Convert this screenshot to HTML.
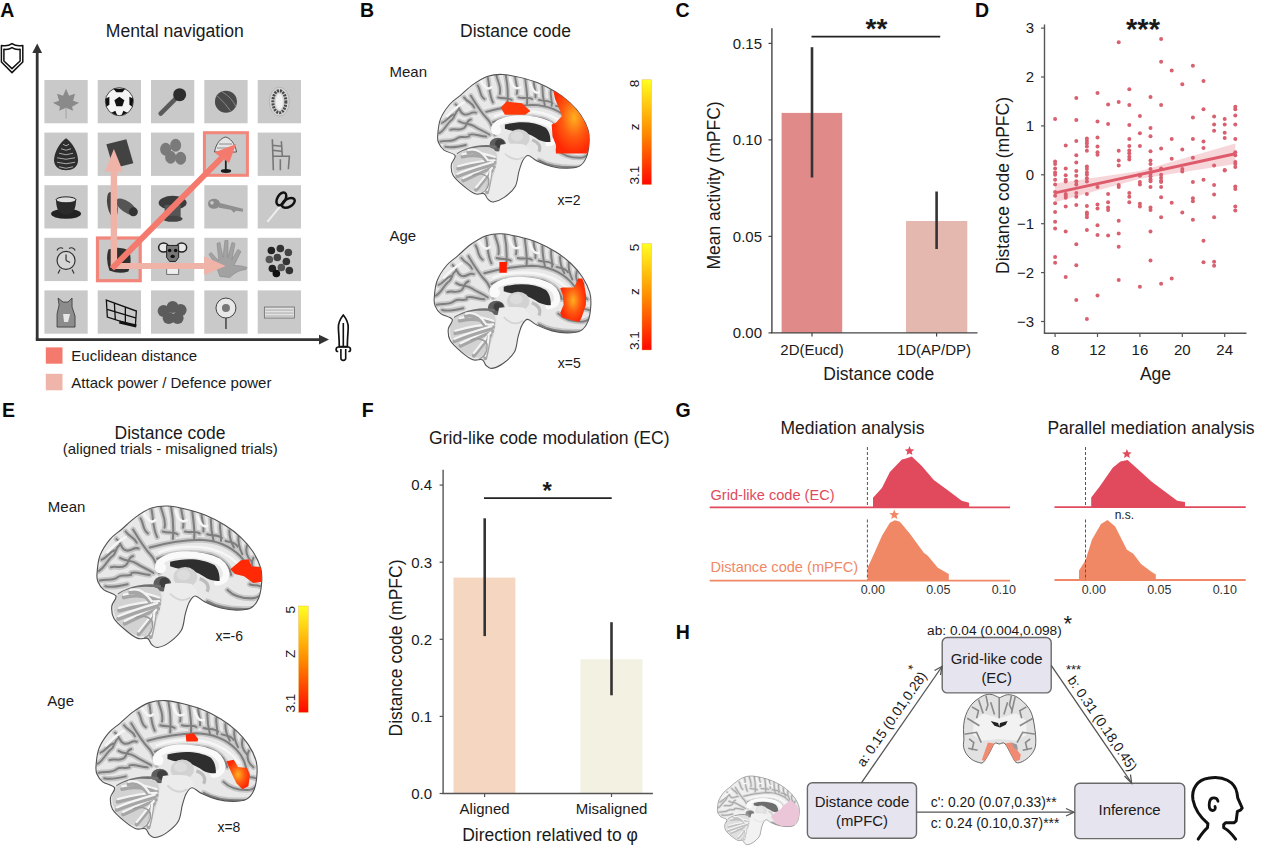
<!DOCTYPE html>
<html><head><meta charset="utf-8"><title>Figure</title>
<style>
html,body{margin:0;padding:0;background:#fff;width:1271px;height:852px;overflow:hidden;}
svg{display:block;font-family:"Liberation Sans",sans-serif;}
</style></head><body>
<svg width="1271" height="852" viewBox="0 0 1271 852">
<rect width="1271" height="852" fill="#fff"/>
<text x="0.2" y="17.2" font-size="19.5" text-anchor="start" fill="#0a0a0a" font-weight="bold" >A</text>
<text x="174.8" y="36.5" font-size="17.6" text-anchor="middle" fill="#1a1a1a" font-weight="normal" >Mental navigation</text>
<rect x="44.4" y="80.0" width="43.3" height="43.3" fill="#c9c9c9"/>
<rect x="97.7" y="80.0" width="43.3" height="43.3" fill="#c9c9c9"/>
<rect x="151.0" y="80.0" width="43.3" height="43.3" fill="#c9c9c9"/>
<rect x="204.3" y="80.0" width="43.3" height="43.3" fill="#c9c9c9"/>
<rect x="257.7" y="80.0" width="43.3" height="43.3" fill="#c9c9c9"/>
<rect x="44.4" y="132.6" width="43.3" height="43.3" fill="#c9c9c9"/>
<rect x="97.7" y="132.6" width="43.3" height="43.3" fill="#c9c9c9"/>
<rect x="151.0" y="132.6" width="43.3" height="43.3" fill="#c9c9c9"/>
<rect x="204.3" y="132.6" width="43.3" height="43.3" fill="#c9c9c9"/>
<rect x="257.7" y="132.6" width="43.3" height="43.3" fill="#c9c9c9"/>
<rect x="44.4" y="185.2" width="43.3" height="43.3" fill="#c9c9c9"/>
<rect x="97.7" y="185.2" width="43.3" height="43.3" fill="#c9c9c9"/>
<rect x="151.0" y="185.2" width="43.3" height="43.3" fill="#c9c9c9"/>
<rect x="204.3" y="185.2" width="43.3" height="43.3" fill="#c9c9c9"/>
<rect x="257.7" y="185.2" width="43.3" height="43.3" fill="#c9c9c9"/>
<rect x="44.4" y="237.8" width="43.3" height="43.3" fill="#c9c9c9"/>
<rect x="97.7" y="237.8" width="43.3" height="43.3" fill="#c9c9c9"/>
<rect x="151.0" y="237.8" width="43.3" height="43.3" fill="#c9c9c9"/>
<rect x="204.3" y="237.8" width="43.3" height="43.3" fill="#c9c9c9"/>
<rect x="257.7" y="237.8" width="43.3" height="43.3" fill="#c9c9c9"/>
<rect x="44.4" y="290.4" width="43.3" height="43.3" fill="#c9c9c9"/>
<rect x="97.7" y="290.4" width="43.3" height="43.3" fill="#c9c9c9"/>
<rect x="151.0" y="290.4" width="43.3" height="43.3" fill="#c9c9c9"/>
<rect x="204.3" y="290.4" width="43.3" height="43.3" fill="#c9c9c9"/>
<rect x="257.7" y="290.4" width="43.3" height="43.3" fill="#c9c9c9"/>
<path d="M66.05,88.65 L69.05,95.65 L75.05,93.65 L73.05,100.65 L79.05,102.65 L72.05,106.65 L73.05,110.65 L66.05,107.65 L59.05,110.65 L60.05,106.65 L53.05,102.65 L59.05,100.65 L57.05,93.65 L63.05,95.65 Z" fill="#8a8a8a"/>
<line x1="66.05" y1="107.65" x2="66.05" y2="118.65" stroke="#999" stroke-width="0.8"/>
<circle cx="119.35" cy="101.65" r="14" fill="#f4f4f4" stroke="#222" stroke-width="0.8"/>
<polygon points="119.35,96.65 124.35,100.15 122.35,106.15 116.35,106.15 114.35,100.15" fill="#111"/>
<path d="M113.35,88.65 L125.35,88.65 L122.35,92.15 L116.35,92.15 Z" fill="#111"/>
<path d="M105.35,98.65 L109.35,96.65 L109.35,104.65 L106.35,106.65 Z" fill="#111"/>
<path d="M133.35,98.65 L129.35,96.65 L129.35,104.65 L132.35,106.65 Z" fill="#111"/>
<path d="M111.35,112.65 L115.35,110.65 L117.35,115.65 Z" fill="#111"/>
<path d="M127.35,112.65 L123.35,110.65 L121.35,115.65 Z" fill="#111"/>
<line x1="160.65" y1="113.65" x2="176.65" y2="97.65" stroke="#5a5a5a" stroke-width="4.5" stroke-linecap="round"/>
<circle cx="179.65" cy="94.65" r="6.5" fill="#2e2e2e"/>
<circle cx="225.95000000000002" cy="101.65" r="11" fill="#4a4a4a"/>
<path d="M216.95000000000002,95.65 Q225.95000000000002,103.65 230.95000000000002,111.65 M221.95000000000002,91.65 Q231.95000000000002,97.65 235.95000000000002,106.65" stroke="#888" stroke-width="1" fill="none"/>
<ellipse cx="279.34999999999997" cy="101.65" rx="10" ry="14.5" fill="#d6d6d6" stroke="#b4b4b4" stroke-width="1"/>
<ellipse cx="279.34999999999997" cy="101.65" rx="6.5" ry="11" fill="none" stroke="#4a4a4a" stroke-width="3" stroke-dasharray="2,1"/>
<ellipse cx="279.34999999999997" cy="101.65" rx="3.5" ry="8" fill="#f0f0f0"/>
<path d="M66.05,138.25 C72.05,142.25 78.05,152.25 78.05,160.25 C78.05,167.25 72.05,170.25 66.05,170.25 C60.05,170.25 54.05,167.25 54.05,160.25 C54.05,152.25 60.05,142.25 66.05,138.25 Z" fill="#2e2e2e"/>
<path d="M63.05,144.25 Q66.05,147.25 69.05,144.25" stroke="#a8a8a8" stroke-width="1" fill="none"/>
<path d="M61.05,148.75 Q66.05,151.75 71.05,148.75" stroke="#a8a8a8" stroke-width="1" fill="none"/>
<path d="M59.05,153.25 Q66.05,156.25 73.05,153.25" stroke="#a8a8a8" stroke-width="1" fill="none"/>
<path d="M57.05,157.75 Q66.05,160.75 75.05,157.75" stroke="#a8a8a8" stroke-width="1" fill="none"/>
<path d="M57.05,162.25 Q66.05,165.25 75.05,162.25" stroke="#a8a8a8" stroke-width="1" fill="none"/>
<path d="M59.05,166.75 Q66.05,169.75 73.05,166.75" stroke="#a8a8a8" stroke-width="1" fill="none"/>
<polygon points="106.35,144.25 126.35,139.25 133.35,163.25 113.35,168.25" fill="#424242"/>
<ellipse cx="165.65" cy="149.25" rx="5.5" ry="6.5" fill="#7a7a7a"/>
<ellipse cx="175.65" cy="145.25" rx="5.5" ry="6.5" fill="#7a7a7a"/>
<ellipse cx="170.65" cy="157.25" rx="5.5" ry="6.5" fill="#7a7a7a"/>
<ellipse cx="180.65" cy="158.25" rx="5.5" ry="6.5" fill="#7a7a7a"/>
<path d="M214.5,152 C216,143 221,138 225.5,137 C230,138 235,143 236.5,152 Z" fill="#e4e4e4" stroke="#555" stroke-width="1"/>
<path d="M217,148 L234,148 M219,144 L232,144" stroke="#777" stroke-width="0.8"/>
<line x1="225.8" y1="152" x2="225.8" y2="170" stroke="#222" stroke-width="1.8"/>
<ellipse cx="226" cy="171" rx="5.2" ry="1.9" fill="#1a1a1a"/>
<path d="M272.34999999999997,139.25 L273.34999999999997,170.25 M281.34999999999997,141.25 L282.34999999999997,156.25 M272.34999999999997,145.25 L281.34999999999997,146.25 M272.34999999999997,150.25 L281.34999999999997,151.25 M273.34999999999997,156.25 L289.34999999999997,156.25 L288.34999999999997,169.25 M280.34999999999997,159.25 L280.34999999999997,170.25" stroke="#777" stroke-width="1.6" fill="none"/>
<ellipse cx="66.05" cy="213.85" rx="15" ry="5" fill="#222"/>
<path d="M56.05,199.85 Q56.05,214.85 66.05,214.85 Q76.05,214.85 76.05,199.85 Z" fill="#2a2a2a"/>
<ellipse cx="66.05" cy="199.85" rx="10" ry="3" fill="#ddd" stroke="#222" stroke-width="1"/>
<ellipse cx="112.35" cy="204.85" rx="5" ry="13" fill="#444" transform="rotate(-10 112.35 204.85)"/>
<ellipse cx="126.35" cy="206.85" rx="5.5" ry="12" fill="#555" transform="rotate(-55 126.35 206.85)"/>
<circle cx="133.35" cy="211.85" r="4.5" fill="#333"/>
<ellipse cx="172.65" cy="202.85" rx="14" ry="7" fill="#3c3c3c"/>
<rect x="164.65" y="204.85" width="16" height="14" fill="#555"/>
<ellipse cx="172.65" cy="218.85" rx="10" ry="3" fill="#444"/>
<ellipse cx="213.95000000000002" cy="203.85" rx="6" ry="5" fill="#8a8a8a"/>
<circle cx="211.95000000000002" cy="202.85" r="1.8" fill="#c9c9c9"/>
<path d="M218.95000000000002,202.85 L242.95000000000002,208.85 L242.95000000000002,211.85 L235.95000000000002,210.85 L233.95000000000002,212.85 L230.95000000000002,209.85 L218.95000000000002,207.85 Z" fill="#8f8f8f"/>
<path d="M267.34999999999997,221.85 L281.34999999999997,204.85" stroke="#eee" stroke-width="2"/>
<ellipse cx="281.34999999999997" cy="198.85" rx="4" ry="7" fill="none" stroke="#111" stroke-width="2.5" transform="rotate(30 281.34999999999997 198.85)"/>
<ellipse cx="288.34999999999997" cy="202.85" rx="4" ry="7" fill="none" stroke="#111" stroke-width="2.5" transform="rotate(60 288.34999999999997 202.85)"/>
<circle cx="66.05" cy="260.45" r="9" fill="#d6d6d6" stroke="#333" stroke-width="1.2"/>
<path d="M57.05,250.45 a4,4 0 0,1 6,-2 M69.05,248.45 a4,4 0 0,1 6,2 M66.05,260.45 L66.05,254.45 M66.05,260.45 L70.05,262.45 M60.05,269.45 L58.05,273.45 M72.05,269.45 L74.05,273.45" stroke="#333" stroke-width="1.2" fill="none"/>
<path d="M108.35,249.45 Q119.35,245.45 129.35,250.45 Q132.35,263.45 128.35,271.45 Q119.35,274.45 109.35,270.45 Q105.35,259.45 108.35,249.45 Z" fill="#303030"/>
<ellipse cx="163.65" cy="247.45" rx="5" ry="4.5" fill="#e8e8e8" stroke="#222" stroke-width="1.5"/>
<ellipse cx="181.65" cy="247.45" rx="5" ry="4.5" fill="#e8e8e8" stroke="#222" stroke-width="1.5"/>
<path d="M166.65,245.45 L178.65,245.45 L178.65,257.45 L175.65,261.45 L169.65,261.45 L166.65,257.45 Z" fill="#777" stroke="#222" stroke-width="1"/>
<circle cx="169.65" cy="250.45" r="1.8" fill="#111"/><circle cx="175.65" cy="250.45" r="1.8" fill="#111"/><ellipse cx="172.65" cy="256.45" rx="2.2" ry="1.6" fill="#111"/>
<path d="M166.65,263.45 L178.65,263.45 L178.65,274.45 L166.65,274.45 Z" fill="#eee" stroke="#555" stroke-width="0.8"/>
<path d="M219.95000000000002,276.45 C216.95000000000002,267.45 213.95000000000002,261.45 208.95000000000002,254.45 L210.95000000000002,252.45 C214.95000000000002,256.45 216.95000000000002,259.45 218.95000000000002,260.45 L216.95000000000002,243.45 L219.95000000000002,242.45 L222.95000000000002,257.45 L224.95000000000002,240.45 L227.95000000000002,240.45 L227.95000000000002,257.45 L231.95000000000002,242.45 L234.95000000000002,243.45 L231.95000000000002,259.45 L237.95000000000002,249.45 L240.95000000000002,251.45 L233.95000000000002,265.45 C239.95000000000002,265.45 243.95000000000002,266.45 246.95000000000002,267.45 L245.95000000000002,269.45 C237.95000000000002,270.45 233.95000000000002,273.45 229.95000000000002,277.45 Z" fill="#a2a2a2" stroke="#888" stroke-width="0.6"/>
<circle cx="271.34999999999997" cy="250.45" r="3.8" fill="#222"/>
<circle cx="280.34999999999997" cy="248.45" r="3.8" fill="#333"/>
<circle cx="288.34999999999997" cy="252.45" r="3.8" fill="#444"/>
<circle cx="269.34999999999997" cy="259.45" r="3.8" fill="#555"/>
<circle cx="277.34999999999997" cy="257.45" r="3.8" fill="#444"/>
<circle cx="286.34999999999997" cy="261.45" r="3.8" fill="#333"/>
<circle cx="272.34999999999997" cy="268.45" r="3.8" fill="#222"/>
<circle cx="281.34999999999997" cy="267.45" r="3.8" fill="#555"/>
<circle cx="289.34999999999997" cy="270.45" r="3.8" fill="#333"/>
<circle cx="276.34999999999997" cy="273.45" r="3.8" fill="#111"/>
<path d="M57.05,327.04999999999995 L57.05,314.04999999999995 L59.05,305.04999999999995 L58.05,298.04999999999995 L63.05,302.04999999999995 L68.05,302.04999999999995 L72.05,298.04999999999995 L72.05,307.04999999999995 L75.05,316.04999999999995 L75.05,327.04999999999995 Z" fill="#8c8c8c" stroke="#333" stroke-width="0.8"/>
<path d="M63.05,314.04999999999995 L70.05,314.04999999999995 L68.05,322.04999999999995 L64.05,322.04999999999995 Z" fill="#e6e6e6"/>
<path d="M106.35,300.04999999999995 L136.35,311.04999999999995 L135.35,326.04999999999995 L107.35,317.04999999999995 Z M114.35,303.04999999999995 L115.35,320.04999999999995 M125.35,307.04999999999995 L125.35,323.04999999999995 M106.35,309.04999999999995 L136.35,318.04999999999995" stroke="#111" stroke-width="1.3" fill="none"/>
<path d="M119.35,322.04999999999995 L136.35,326.04999999999995" stroke="#111" stroke-width="3"/>
<circle cx="163.65" cy="311.04999999999995" r="6" fill="#5c5c5c"/>
<circle cx="172.65" cy="307.04999999999995" r="6" fill="#5c5c5c"/>
<circle cx="180.65" cy="310.04999999999995" r="6" fill="#5c5c5c"/>
<circle cx="168.65" cy="318.04999999999995" r="6" fill="#5c5c5c"/>
<circle cx="177.65" cy="318.04999999999995" r="6" fill="#5c5c5c"/>
<line x1="225.95000000000002" y1="312.04999999999995" x2="225.95000000000002" y2="329.04999999999995" stroke="#444" stroke-width="1.5"/>
<circle cx="225.95000000000002" cy="308.04999999999995" r="10" fill="#e8e8e8" stroke="#444" stroke-width="1"/>
<circle cx="225.95000000000002" cy="308.04999999999995" r="4" fill="#777"/>
<rect x="264.34999999999997" y="307.04999999999995" width="30" height="11" fill="#e2e2e2" stroke="#666" stroke-width="0.8"/>
<line x1="265.34999999999997" y1="310.04999999999995" x2="293.34999999999997" y2="310.04999999999995" stroke="#888" stroke-width="0.6"/>
<line x1="265.34999999999997" y1="313.04999999999995" x2="293.34999999999997" y2="313.04999999999995" stroke="#888" stroke-width="0.6"/>
<line x1="265.34999999999997" y1="316.04999999999995" x2="293.34999999999997" y2="316.04999999999995" stroke="#888" stroke-width="0.6"/>
<rect x="204.4" y="132.7" width="43" height="42.6" fill="none" stroke="#f2867a" stroke-width="3"/>
<rect x="97.5" y="238" width="42.7" height="42.7" fill="none" stroke="#f2867a" stroke-width="3.2"/>
<line x1="113.9" y1="268" x2="113.9" y2="170" stroke="#f0b3a8" stroke-width="6.4"/>
<polygon points="104.9,171.5 123,171.5 113.9,149" fill="#f0b3a8"/>
<line x1="112" y1="266" x2="205" y2="266" stroke="#f0b3a8" stroke-width="5.8"/>
<polygon points="204.1,256.2 204.1,275 225.6,266" fill="#f0b3a8"/>
<line x1="112" y1="268.5" x2="222" y2="157.5" stroke="#f47a6e" stroke-width="6"/>
<polygon points="236.1,144 214.4,152.6 229.1,162.9" fill="#f47a6e"/>
<line x1="37.2" y1="52" x2="37.2" y2="339.6" stroke="#333" stroke-width="2.8"/>
<polygon points="32.3,53 42.1,53 37.2,43.5" fill="#333"/>
<line x1="35.8" y1="339.6" x2="320" y2="339.6" stroke="#333" stroke-width="2.8"/>
<polygon points="319,334.7 319,344.5 329,339.6" fill="#333"/>
<path d="M1.4,45.4 C5,46.2 9,45.8 12,43.6 C15,45.8 19,46.2 22.8,45.4 L22.8,62 L12,72.6 L1.4,62 Z" fill="none" stroke="#111" stroke-width="1.5" stroke-linejoin="round"/>
<path d="M3.9,49.3 C7,49.8 9.5,49.3 12,47.6 C14.5,49.3 17,49.8 20.1,49.3 L20.1,61 L12,68.6 L3.9,61 Z" fill="none" stroke="#111" stroke-width="1.5" stroke-linejoin="round"/>
<path d="M343.3,315 C340.5,318.5 338.2,323 338.4,328 C338.6,334 339.4,340 339.2,346.6 L347.4,346.6 C347.2,340 348,334 348.2,328 C348.4,323 346.1,318.5 343.3,315 Z" fill="none" stroke="#111" stroke-width="1.7" stroke-linejoin="round"/>
<line x1="343.3" y1="323" x2="343.3" y2="346.6" stroke="#111" stroke-width="1.6"/>
<path d="M337.5,351.5 C335.5,351 335.6,347 338.5,347 L348.1,347 C351,347 351.1,351 349.1,351.5" fill="none" stroke="#111" stroke-width="1.7" stroke-linecap="round"/>
<path d="M340.9,349 L340.9,358.3 C340.9,361 345.7,361 345.7,358.3 L345.7,349" fill="none" stroke="#111" stroke-width="1.6"/>
<rect x="45.8" y="347.4" width="16.7" height="16.3" fill="#f47a6e"/>
<rect x="45.8" y="373.8" width="16.7" height="16.5" fill="#f0b5aa"/>
<text x="71.3" y="361.2" font-size="15" text-anchor="start" fill="#1a1a1a" font-weight="normal" >Euclidean distance</text>
<text x="71.3" y="387.5" font-size="15" text-anchor="start" fill="#1a1a1a" font-weight="normal" >Attack power / Defence power</text>
<defs><clipPath id="bclip"><path d="M45.0,414.0 C46.8,390.8 49.3,348.3 61.0,318.0 C72.7,287.7 95.3,255.3 115.0,232.0 C134.7,208.7 155.8,197.7 179.0,178.0 C202.2,158.3 227.2,132.7 254.0,114.0 C280.8,95.3 311.3,75.8 340.0,66.0 C368.7,56.2 395.7,54.2 426.0,55.0 C456.3,55.8 488.2,63.0 522.0,71.0 C555.8,79.0 593.2,88.7 629.0,103.0 C664.8,117.3 704.8,137.3 737.0,157.0 C769.2,176.7 797.0,197.8 822.0,221.0 C847.0,244.2 869.2,269.2 887.0,296.0 C904.8,322.8 921.0,355.2 929.0,382.0 C937.0,408.8 936.7,430.2 935.0,457.0 C933.3,483.8 928.8,519.8 919.0,543.0 C909.2,566.2 895.7,585.3 876.0,596.0 C856.3,606.7 827.8,607.0 801.0,607.0 C774.2,607.0 743.7,603.2 715.0,596.0 C686.3,588.8 652.2,574.7 629.0,564.0 C605.8,553.3 590.2,532.0 576.0,532.0 C561.8,532.0 553.0,548.0 544.0,564.0 C535.0,580.0 529.2,603.0 522.0,628.0 C514.8,653.0 515.3,689.0 501.0,714.0 C486.7,739.0 457.5,762.8 436.0,778.0 C414.5,793.2 388.0,803.2 372.0,805.0 C356.0,806.8 349.0,797.0 340.0,789.0 C331.0,781.0 330.5,762.3 318.0,757.0 C305.5,751.7 284.7,764.2 265.0,757.0 C245.3,749.8 221.5,731.8 200.0,714.0 C178.5,696.2 148.5,671.3 136.0,650.0 C123.5,628.7 123.2,605.7 125.0,586.0 C126.8,566.3 154.2,546.3 147.0,532.0 C139.8,517.7 98.2,512.5 82.0,500.0 C65.8,487.5 56.2,471.3 50.0,457.0 C43.8,442.7 43.2,437.2 45.0,414.0 Z"/></clipPath>
<g id="brain">
<path d="M45.0,414.0 C46.8,390.8 49.3,348.3 61.0,318.0 C72.7,287.7 95.3,255.3 115.0,232.0 C134.7,208.7 155.8,197.7 179.0,178.0 C202.2,158.3 227.2,132.7 254.0,114.0 C280.8,95.3 311.3,75.8 340.0,66.0 C368.7,56.2 395.7,54.2 426.0,55.0 C456.3,55.8 488.2,63.0 522.0,71.0 C555.8,79.0 593.2,88.7 629.0,103.0 C664.8,117.3 704.8,137.3 737.0,157.0 C769.2,176.7 797.0,197.8 822.0,221.0 C847.0,244.2 869.2,269.2 887.0,296.0 C904.8,322.8 921.0,355.2 929.0,382.0 C937.0,408.8 936.7,430.2 935.0,457.0 C933.3,483.8 928.8,519.8 919.0,543.0 C909.2,566.2 895.7,585.3 876.0,596.0 C856.3,606.7 827.8,607.0 801.0,607.0 C774.2,607.0 743.7,603.2 715.0,596.0 C686.3,588.8 652.2,574.7 629.0,564.0 C605.8,553.3 590.2,532.0 576.0,532.0 C561.8,532.0 553.0,548.0 544.0,564.0 C535.0,580.0 529.2,603.0 522.0,628.0 C514.8,653.0 515.3,689.0 501.0,714.0 C486.7,739.0 457.5,762.8 436.0,778.0 C414.5,793.2 388.0,803.2 372.0,805.0 C356.0,806.8 349.0,797.0 340.0,789.0 C331.0,781.0 330.5,762.3 318.0,757.0 C305.5,751.7 284.7,764.2 265.0,757.0 C245.3,749.8 221.5,731.8 200.0,714.0 C178.5,696.2 148.5,671.3 136.0,650.0 C123.5,628.7 123.2,605.7 125.0,586.0 C126.8,566.3 154.2,546.3 147.0,532.0 C139.8,517.7 98.2,512.5 82.0,500.0 C65.8,487.5 56.2,471.3 50.0,457.0 C43.8,442.7 43.2,437.2 45.0,414.0 Z" fill="#e8e8e8"/>
<g clip-path="url(#bclip)">
<path d="M55,400 C90,380 100,340 130,320 C150,305 140,280 170,260" fill="none" stroke="#c6c6c6" stroke-width="30" stroke-linecap="round"/>
<path d="M70,340 C100,330 110,300 140,290" fill="none" stroke="#c6c6c6" stroke-width="30" stroke-linecap="round"/>
<path d="M60,450 C100,440 130,455 160,430 C180,415 200,430 230,420" fill="none" stroke="#c6c6c6" stroke-width="30" stroke-linecap="round"/>
<path d="M90,480 C130,490 170,480 210,470" fill="none" stroke="#c6c6c6" stroke-width="30" stroke-linecap="round"/>
<path d="M120,380 C150,370 170,390 200,370 C220,355 210,330 240,320" fill="none" stroke="#c6c6c6" stroke-width="30" stroke-linecap="round"/>
<path d="M150,230 C180,250 170,280 200,290 C230,300 240,270 270,280" fill="none" stroke="#c6c6c6" stroke-width="30" stroke-linecap="round"/>
<path d="M200,190 C220,220 250,220 260,250" fill="none" stroke="#c6c6c6" stroke-width="30" stroke-linecap="round"/>
<path d="M240,180 C270,230 300,280 340,320 C360,340 370,380 380,410" fill="none" stroke="#c6c6c6" stroke-width="30" stroke-linecap="round"/>
<path d="M170,330 C200,350 230,340 260,360 C290,380 320,390 350,410" fill="none" stroke="#c6c6c6" stroke-width="30" stroke-linecap="round"/>
<path d="M230,410 C260,400 290,420 330,420" fill="none" stroke="#c6c6c6" stroke-width="30" stroke-linecap="round"/>
<path d="M280,120 C300,150 290,180 320,200" fill="none" stroke="#c6c6c6" stroke-width="30" stroke-linecap="round"/>
<path d="M340,75 C350,120 345,170 370,220" fill="none" stroke="#c6c6c6" stroke-width="30" stroke-linecap="round"/>
<path d="M390,62 C400,100 420,130 410,170" fill="none" stroke="#c6c6c6" stroke-width="30" stroke-linecap="round"/>
<path d="M445,60 C455,110 460,170 455,230" fill="none" stroke="#c6c6c6" stroke-width="30" stroke-linecap="round"/>
<path d="M500,65 C500,100 520,130 510,170" fill="none" stroke="#c6c6c6" stroke-width="30" stroke-linecap="round"/>
<path d="M560,85 C565,130 575,180 570,230" fill="none" stroke="#c6c6c6" stroke-width="30" stroke-linecap="round"/>
<path d="M610,100 C610,130 625,150 620,190" fill="none" stroke="#c6c6c6" stroke-width="30" stroke-linecap="round"/>
<path d="M660,125 C660,165 665,200 675,240" fill="none" stroke="#c6c6c6" stroke-width="30" stroke-linecap="round"/>
<path d="M710,150 C705,180 720,210 715,240" fill="none" stroke="#c6c6c6" stroke-width="30" stroke-linecap="round"/>
<path d="M760,185 C760,220 770,250 785,275" fill="none" stroke="#c6c6c6" stroke-width="30" stroke-linecap="round"/>
<path d="M810,215 C805,250 815,280 830,310" fill="none" stroke="#c6c6c6" stroke-width="30" stroke-linecap="round"/>
<path d="M855,265 C845,300 860,330 880,350" fill="none" stroke="#c6c6c6" stroke-width="30" stroke-linecap="round"/>
<path d="M890,330 C875,360 885,400 915,420" fill="none" stroke="#c6c6c6" stroke-width="30" stroke-linecap="round"/>
<path d="M330,275 C420,250 500,237 600,234 C680,236 760,262 820,322 C860,362 870,400 880,445" fill="none" stroke="#c6c6c6" stroke-width="30" stroke-linecap="round"/>
<path d="M370,335 C450,300 570,295 660,315 C720,335 760,370 770,420" fill="none" stroke="#c6c6c6" stroke-width="30" stroke-linecap="round"/>
<path d="M400,190 C430,200 460,190 480,205" fill="none" stroke="#c6c6c6" stroke-width="30" stroke-linecap="round"/>
<path d="M520,190 C550,200 580,185 600,200" fill="none" stroke="#c6c6c6" stroke-width="30" stroke-linecap="round"/>
<path d="M640,205 C670,215 700,205 720,225" fill="none" stroke="#c6c6c6" stroke-width="30" stroke-linecap="round"/>
<path d="M740,240 C770,250 790,245 805,270" fill="none" stroke="#c6c6c6" stroke-width="30" stroke-linecap="round"/>
<path d="M870,470 C890,480 905,470 925,480" fill="none" stroke="#c6c6c6" stroke-width="30" stroke-linecap="round"/>
<path d="M750,500 C780,530 830,545 880,545 C900,545 920,535 930,525" fill="none" stroke="#c6c6c6" stroke-width="30" stroke-linecap="round"/>
<path d="M640,560 C700,595 780,605 880,600" fill="none" stroke="#c6c6c6" stroke-width="30" stroke-linecap="round"/>
<path d="M110,560 C150,540 200,530 260,540" fill="none" stroke="#c6c6c6" stroke-width="30" stroke-linecap="round"/>
<path d="M55,400 C90,380 100,340 130,320 C150,305 140,280 170,260" fill="none" stroke="#7e7e7e" stroke-width="11" stroke-linecap="round"/>
<path d="M70,340 C100,330 110,300 140,290" fill="none" stroke="#7e7e7e" stroke-width="11" stroke-linecap="round"/>
<path d="M60,450 C100,440 130,455 160,430 C180,415 200,430 230,420" fill="none" stroke="#7e7e7e" stroke-width="11" stroke-linecap="round"/>
<path d="M90,480 C130,490 170,480 210,470" fill="none" stroke="#7e7e7e" stroke-width="11" stroke-linecap="round"/>
<path d="M120,380 C150,370 170,390 200,370 C220,355 210,330 240,320" fill="none" stroke="#7e7e7e" stroke-width="11" stroke-linecap="round"/>
<path d="M150,230 C180,250 170,280 200,290 C230,300 240,270 270,280" fill="none" stroke="#7e7e7e" stroke-width="11" stroke-linecap="round"/>
<path d="M200,190 C220,220 250,220 260,250" fill="none" stroke="#7e7e7e" stroke-width="11" stroke-linecap="round"/>
<path d="M240,180 C270,230 300,280 340,320 C360,340 370,380 380,410" fill="none" stroke="#7e7e7e" stroke-width="11" stroke-linecap="round"/>
<path d="M170,330 C200,350 230,340 260,360 C290,380 320,390 350,410" fill="none" stroke="#7e7e7e" stroke-width="11" stroke-linecap="round"/>
<path d="M230,410 C260,400 290,420 330,420" fill="none" stroke="#7e7e7e" stroke-width="11" stroke-linecap="round"/>
<path d="M280,120 C300,150 290,180 320,200" fill="none" stroke="#7e7e7e" stroke-width="11" stroke-linecap="round"/>
<path d="M340,75 C350,120 345,170 370,220" fill="none" stroke="#7e7e7e" stroke-width="11" stroke-linecap="round"/>
<path d="M390,62 C400,100 420,130 410,170" fill="none" stroke="#7e7e7e" stroke-width="11" stroke-linecap="round"/>
<path d="M445,60 C455,110 460,170 455,230" fill="none" stroke="#7e7e7e" stroke-width="11" stroke-linecap="round"/>
<path d="M500,65 C500,100 520,130 510,170" fill="none" stroke="#7e7e7e" stroke-width="11" stroke-linecap="round"/>
<path d="M560,85 C565,130 575,180 570,230" fill="none" stroke="#7e7e7e" stroke-width="11" stroke-linecap="round"/>
<path d="M610,100 C610,130 625,150 620,190" fill="none" stroke="#7e7e7e" stroke-width="11" stroke-linecap="round"/>
<path d="M660,125 C660,165 665,200 675,240" fill="none" stroke="#7e7e7e" stroke-width="11" stroke-linecap="round"/>
<path d="M710,150 C705,180 720,210 715,240" fill="none" stroke="#7e7e7e" stroke-width="11" stroke-linecap="round"/>
<path d="M760,185 C760,220 770,250 785,275" fill="none" stroke="#7e7e7e" stroke-width="11" stroke-linecap="round"/>
<path d="M810,215 C805,250 815,280 830,310" fill="none" stroke="#7e7e7e" stroke-width="11" stroke-linecap="round"/>
<path d="M855,265 C845,300 860,330 880,350" fill="none" stroke="#7e7e7e" stroke-width="11" stroke-linecap="round"/>
<path d="M890,330 C875,360 885,400 915,420" fill="none" stroke="#7e7e7e" stroke-width="11" stroke-linecap="round"/>
<path d="M330,275 C420,250 500,237 600,234 C680,236 760,262 820,322 C860,362 870,400 880,445" fill="none" stroke="#7e7e7e" stroke-width="11" stroke-linecap="round"/>
<path d="M370,335 C450,300 570,295 660,315 C720,335 760,370 770,420" fill="none" stroke="#7e7e7e" stroke-width="11" stroke-linecap="round"/>
<path d="M400,190 C430,200 460,190 480,205" fill="none" stroke="#7e7e7e" stroke-width="11" stroke-linecap="round"/>
<path d="M520,190 C550,200 580,185 600,200" fill="none" stroke="#7e7e7e" stroke-width="11" stroke-linecap="round"/>
<path d="M640,205 C670,215 700,205 720,225" fill="none" stroke="#7e7e7e" stroke-width="11" stroke-linecap="round"/>
<path d="M740,240 C770,250 790,245 805,270" fill="none" stroke="#7e7e7e" stroke-width="11" stroke-linecap="round"/>
<path d="M870,470 C890,480 905,470 925,480" fill="none" stroke="#7e7e7e" stroke-width="11" stroke-linecap="round"/>
<path d="M750,500 C780,530 830,545 880,545 C900,545 920,535 930,525" fill="none" stroke="#7e7e7e" stroke-width="11" stroke-linecap="round"/>
<path d="M640,560 C700,595 780,605 880,600" fill="none" stroke="#7e7e7e" stroke-width="11" stroke-linecap="round"/>
<path d="M110,560 C150,540 200,530 260,540" fill="none" stroke="#7e7e7e" stroke-width="11" stroke-linecap="round"/>
<path d="M100,300 C130,270 160,240 200,220" fill="none" stroke="#f6f6f6" stroke-width="14" stroke-linecap="round"/>
<path d="M300,95 C320,130 340,150 360,130" fill="none" stroke="#f6f6f6" stroke-width="14" stroke-linecap="round"/>
<path d="M470,80 C480,120 500,150 530,130" fill="none" stroke="#f6f6f6" stroke-width="14" stroke-linecap="round"/>
<path d="M590,110 C600,150 620,170 640,160" fill="none" stroke="#f6f6f6" stroke-width="14" stroke-linecap="round"/>
<path d="M380,300 C450,270 570,262 660,282 C730,300 790,335 835,395" fill="none" stroke="#f6f6f6" stroke-width="14" stroke-linecap="round"/>
<path d="M377,366 C400,330 440,318 500,313 C580,308 660,325 704,350 C735,370 748,405 741,430 C735,450 720,458 694,460" fill="none" stroke="#fafafa" stroke-width="34" stroke-linecap="round"/>
<circle cx="388" cy="382" r="30" fill="#fafafa"/>
<ellipse cx="398" cy="468" rx="48" ry="40" fill="#5e5e5e"/>
<ellipse cx="410" cy="462" rx="28" ry="26" fill="#3e3e3e"/>
<path d="M160,525 C220,485 310,468 390,482" fill="none" stroke="#707070" stroke-width="14"/>
<path d="M440,350 C520,330 610,330 680,368 C702,390 708,420 708,452 C690,456 660,448 640,440 C610,420 585,405 555,398 C520,392 480,390 440,375 Z" fill="#2e2e2e"/>
<ellipse cx="522" cy="432" rx="64" ry="54" fill="#d2d2d2"/>
<ellipse cx="512" cy="420" rx="36" ry="28" fill="#dcdcdc"/>
<path d="M600,440 C640,455 655,480 640,510" fill="none" stroke="#bcbcbc" stroke-width="18"/>
<path d="M415,468 C470,460 530,462 555,468 C575,490 590,510 587,521 C570,560 550,585 534,607 C515,650 505,690 491,714 C470,750 440,790 416,800 L330,789 C350,730 370,670 384,628 C392,590 398,550 405,521 C408,500 410,480 415,468 Z" fill="#ececec"/>
<path d="M440,520 C480,560 520,560 550,540" fill="none" stroke="#d4d4d4" stroke-width="10"/>
<path d="M150,530 C210,485 300,475 370,490 C400,510 400,555 385,605 C370,660 345,715 305,745 C250,750 190,715 155,660 C130,620 128,570 150,530 Z" fill="#d2d2d2"/>
<path d="M380,540 C320,520 260,505 190,525" fill="none" stroke="#a6a6a6" stroke-width="22" stroke-linecap="round" transform="translate(0,14)"/>
<path d="M380,540 C320,520 260,505 190,525" fill="none" stroke="#f4f4f4" stroke-width="12" stroke-linecap="round"/>
<path d="M380,560 C310,560 240,575 165,595" fill="none" stroke="#a6a6a6" stroke-width="22" stroke-linecap="round" transform="translate(0,14)"/>
<path d="M380,560 C310,560 240,575 165,595" fill="none" stroke="#f4f4f4" stroke-width="12" stroke-linecap="round"/>
<path d="M375,585 C320,605 260,635 195,665" fill="none" stroke="#a6a6a6" stroke-width="22" stroke-linecap="round" transform="translate(0,14)"/>
<path d="M375,585 C320,605 260,635 195,665" fill="none" stroke="#f4f4f4" stroke-width="12" stroke-linecap="round"/>
<path d="M365,605 C330,645 300,685 270,720" fill="none" stroke="#a6a6a6" stroke-width="22" stroke-linecap="round" transform="translate(0,14)"/>
<path d="M365,605 C330,645 300,685 270,720" fill="none" stroke="#f4f4f4" stroke-width="12" stroke-linecap="round"/>
<path d="M355,615 C355,655 345,695 335,735" fill="none" stroke="#a6a6a6" stroke-width="22" stroke-linecap="round" transform="translate(0,14)"/>
<path d="M355,615 C355,655 345,695 335,735" fill="none" stroke="#f4f4f4" stroke-width="12" stroke-linecap="round"/>
<path d="M340,560 C300,500 260,490 225,500" fill="none" stroke="#a6a6a6" stroke-width="22" stroke-linecap="round" transform="translate(0,14)"/>
<path d="M340,560 C300,500 260,490 225,500" fill="none" stroke="#f4f4f4" stroke-width="12" stroke-linecap="round"/>
<path d="M370,570 C300,590 230,610 160,640" fill="none" stroke="#a6a6a6" stroke-width="22" stroke-linecap="round" transform="translate(0,14)"/>
<path d="M370,570 C300,590 230,610 160,640" fill="none" stroke="#f4f4f4" stroke-width="12" stroke-linecap="round"/>
<path d="M250,650 C280,630 330,640 345,670 C350,705 335,740 300,755" fill="none" stroke="#9a9a9a" stroke-width="8"/>
</g>
<path d="M45.0,414.0 C46.8,390.8 49.3,348.3 61.0,318.0 C72.7,287.7 95.3,255.3 115.0,232.0 C134.7,208.7 155.8,197.7 179.0,178.0 C202.2,158.3 227.2,132.7 254.0,114.0 C280.8,95.3 311.3,75.8 340.0,66.0 C368.7,56.2 395.7,54.2 426.0,55.0 C456.3,55.8 488.2,63.0 522.0,71.0 C555.8,79.0 593.2,88.7 629.0,103.0 C664.8,117.3 704.8,137.3 737.0,157.0 C769.2,176.7 797.0,197.8 822.0,221.0 C847.0,244.2 869.2,269.2 887.0,296.0 C904.8,322.8 921.0,355.2 929.0,382.0 C937.0,408.8 936.7,430.2 935.0,457.0 C933.3,483.8 928.8,519.8 919.0,543.0 C909.2,566.2 895.7,585.3 876.0,596.0 C856.3,606.7 827.8,607.0 801.0,607.0 C774.2,607.0 743.7,603.2 715.0,596.0 C686.3,588.8 652.2,574.7 629.0,564.0 C605.8,553.3 590.2,532.0 576.0,532.0 C561.8,532.0 553.0,548.0 544.0,564.0 C535.0,580.0 529.2,603.0 522.0,628.0 C514.8,653.0 515.3,689.0 501.0,714.0 C486.7,739.0 457.5,762.8 436.0,778.0 C414.5,793.2 388.0,803.2 372.0,805.0 C356.0,806.8 349.0,797.0 340.0,789.0 C331.0,781.0 330.5,762.3 318.0,757.0 C305.5,751.7 284.7,764.2 265.0,757.0 C245.3,749.8 221.5,731.8 200.0,714.0 C178.5,696.2 148.5,671.3 136.0,650.0 C123.5,628.7 123.2,605.7 125.0,586.0 C126.8,566.3 154.2,546.3 147.0,532.0 C139.8,517.7 98.2,512.5 82.0,500.0 C65.8,487.5 56.2,471.3 50.0,457.0 C43.8,442.7 43.2,437.2 45.0,414.0 Z" fill="none" stroke="#505050" stroke-width="6"/>
</g></defs>
<text x="360" y="17.2" font-size="19.5" text-anchor="start" fill="#0a0a0a" font-weight="bold" >B</text>
<text x="515.5" y="36.8" font-size="17.5" text-anchor="middle" fill="#1a1a1a" font-weight="normal" >Distance code</text>
<text x="389.5" y="77" font-size="15" text-anchor="start" fill="#1a1a1a" font-weight="normal" >Mean</text>
<text x="389.5" y="240.5" font-size="15" text-anchor="start" fill="#1a1a1a" font-weight="normal" >Age</text>
<radialGradient id="bg1"><stop offset="0" stop-color="#ffb020"/><stop offset="0.55" stop-color="#ff5a10"/><stop offset="1" stop-color="#ff2a05"/></radialGradient>
<g transform="translate(430.04,65.05) scale(0.17011,0.17007)"><use href="#brain"/><g clip-path="url(#bclip)"><polygon points="720.0,130.0 735.0,200.0 760.0,260.0 775.0,300.0 740.0,340.0 715.0,350.0 720.0,420.0 740.0,470.0 740.0,520.0 980.0,520.0 980.0,100.0" fill="url(#bg1)"/><polygon points="415.0,250.0 450.0,215.0 540.0,225.0 590.0,270.0 560.0,292.0 440.0,292.0" fill="#ff3a08"/></g></g>
<text x="557.5" y="205" font-size="14" text-anchor="start" fill="#1a1a1a" font-weight="normal" >x=2</text>
<g transform="translate(426.28,223.82) scale(0.17596,0.17960)"><use href="#brain"/><g clip-path="url(#bclip)"><polygon points="761.1,359.0 774.7,354.6 840.1,354.6 863.4,304.4 886.7,304.4 896.4,331.7 907.7,396.3 907.2,450.9 883.3,519.9 869.6,547.2 831.6,538.3 770.8,519.9 761.1,497.1 780.4,450.9 775.3,395.8" fill="url(#bg1)"/><polygon points="415.5,212.6 457.6,212.6 457.6,272.2 415.5,272.2" fill="#ff1a00"/></g></g>
<text x="557.8" y="367.6" font-size="14" text-anchor="start" fill="#1a1a1a" font-weight="normal" >x=5</text>
<linearGradient id="cb1" x1="0" y1="1" x2="0" y2="0"><stop offset="0" stop-color="#ff0800"/><stop offset="0.5" stop-color="#ff8c00"/><stop offset="1" stop-color="#ffff20"/></linearGradient>
<rect x="642" y="79.8" width="9.5" height="104.8" fill="url(#cb1)" stroke="#e0b040" stroke-width="0.4"/>
<text transform="translate(638.5,79.8) rotate(-90)" font-size="13.5" text-anchor="end" fill="#1a1a1a">8</text>
<text transform="translate(638.5,126.96) rotate(-90)" font-size="13.5" text-anchor="middle" fill="#1a1a1a">z</text>
<text transform="translate(638.5,184.6) rotate(-90)" font-size="13.5" text-anchor="start" fill="#1a1a1a">3.1</text>
<linearGradient id="cb2" x1="0" y1="1" x2="0" y2="0"><stop offset="0" stop-color="#ff0800"/><stop offset="0.5" stop-color="#ff8c00"/><stop offset="1" stop-color="#ffff20"/></linearGradient>
<rect x="642" y="243.7" width="9.5" height="106.3" fill="url(#cb2)" stroke="#e0b040" stroke-width="0.4"/>
<text transform="translate(638.5,243.7) rotate(-90)" font-size="13.5" text-anchor="end" fill="#1a1a1a">5</text>
<text transform="translate(638.5,291.53499999999997) rotate(-90)" font-size="13.5" text-anchor="middle" fill="#1a1a1a">z</text>
<text transform="translate(638.5,350.0) rotate(-90)" font-size="13.5" text-anchor="start" fill="#1a1a1a">3.1</text>
<text x="675.5" y="17.2" font-size="19.5" text-anchor="start" fill="#0a0a0a" font-weight="bold" >C</text>
<rect x="781.6" y="112.9" width="60.6" height="220.0" fill="#e08a89"/>
<rect x="906" y="221.0" width="61.3" height="111.9" fill="#e4b8ae"/>
<line x1="812" y1="47.2" x2="812" y2="177.5" stroke="#333" stroke-width="2.6"/>
<line x1="936.6" y1="191.5" x2="936.6" y2="249" stroke="#333" stroke-width="2.6"/>
<line x1="771.9" y1="28.3" x2="771.9" y2="332.9" stroke="#444" stroke-width="1.4"/>
<line x1="771.2" y1="332.9" x2="977.5" y2="332.9" stroke="#444" stroke-width="1.4"/>
<line x1="768.5" y1="332.9" x2="771.9" y2="332.9" stroke="#444" stroke-width="1.2"/>
<text x="762" y="338.2" font-size="15" text-anchor="end" fill="#1a1a1a" font-weight="normal" >0.00</text>
<line x1="768.5" y1="236.4" x2="771.9" y2="236.4" stroke="#444" stroke-width="1.2"/>
<text x="762" y="241.7" font-size="15" text-anchor="end" fill="#1a1a1a" font-weight="normal" >0.05</text>
<line x1="768.5" y1="139.9" x2="771.9" y2="139.9" stroke="#444" stroke-width="1.2"/>
<text x="762" y="145.2" font-size="15" text-anchor="end" fill="#1a1a1a" font-weight="normal" >0.10</text>
<line x1="768.5" y1="43.4" x2="771.9" y2="43.4" stroke="#444" stroke-width="1.2"/>
<text x="762" y="48.699999999999974" font-size="15" text-anchor="end" fill="#1a1a1a" font-weight="normal" >0.15</text>
<line x1="812" y1="332.9" x2="812" y2="336.4" stroke="#444" stroke-width="1.2"/>
<line x1="936.6" y1="332.9" x2="936.6" y2="336.4" stroke="#444" stroke-width="1.2"/>
<text x="812" y="354.6" font-size="15" text-anchor="middle" fill="#1a1a1a" font-weight="normal" >2D(Eucd)</text>
<text x="934" y="354.6" font-size="15" text-anchor="middle" fill="#1a1a1a" font-weight="normal" >1D(AP/DP)</text>
<text x="878.8" y="379.5" font-size="17.5" text-anchor="middle" fill="#1a1a1a" font-weight="normal" >Distance code</text>
<text transform="translate(720,185.5) rotate(-90)" font-size="17.5" text-anchor="middle" fill="#1a1a1a">Mean activity (mPFC)</text>
<line x1="811.5" y1="36.6" x2="940.2" y2="36.6" stroke="#222" stroke-width="1.8"/>
<text x="876.5" y="38.3" font-size="28" text-anchor="middle" fill="#1a1a1a" font-weight="bold" >**</text>
<text x="975" y="17.2" font-size="19.5" text-anchor="start" fill="#0a0a0a" font-weight="bold" >D</text>
<path d="M1055.1,183.602 L1139.8999999999999,170.888 L1235.3,143.50400000000002 L1235.3,164.042 L1139.8999999999999,178.71200000000002 L1055.1,202.18400000000003 Z" fill="#f6d2d6" opacity="0.9"/>
<circle cx="1055.1" cy="119.1" r="2" fill="#d9606f"/>
<circle cx="1055.1" cy="161.6" r="2" fill="#d9606f"/>
<circle cx="1055.1" cy="164.0" r="2" fill="#d9606f"/>
<circle cx="1055.1" cy="168.4" r="2" fill="#d9606f"/>
<circle cx="1055.1" cy="172.4" r="2" fill="#d9606f"/>
<circle cx="1055.1" cy="174.8" r="2" fill="#d9606f"/>
<circle cx="1055.1" cy="179.7" r="2" fill="#d9606f"/>
<circle cx="1055.1" cy="184.6" r="2" fill="#d9606f"/>
<circle cx="1055.1" cy="191.9" r="2" fill="#d9606f"/>
<circle cx="1055.1" cy="195.8" r="2" fill="#d9606f"/>
<circle cx="1055.1" cy="203.2" r="2" fill="#d9606f"/>
<circle cx="1055.1" cy="212.0" r="2" fill="#d9606f"/>
<circle cx="1055.1" cy="221.7" r="2" fill="#d9606f"/>
<circle cx="1055.1" cy="228.6" r="2" fill="#d9606f"/>
<circle cx="1055.1" cy="257.0" r="2" fill="#d9606f"/>
<circle cx="1055.1" cy="262.8" r="2" fill="#d9606f"/>
<circle cx="1065.7" cy="145.5" r="2" fill="#d9606f"/>
<circle cx="1065.7" cy="168.4" r="2" fill="#d9606f"/>
<circle cx="1065.7" cy="175.3" r="2" fill="#d9606f"/>
<circle cx="1065.7" cy="179.7" r="2" fill="#d9606f"/>
<circle cx="1065.7" cy="181.6" r="2" fill="#d9606f"/>
<circle cx="1065.7" cy="193.9" r="2" fill="#d9606f"/>
<circle cx="1065.7" cy="195.8" r="2" fill="#d9606f"/>
<circle cx="1065.7" cy="197.8" r="2" fill="#d9606f"/>
<circle cx="1065.7" cy="206.6" r="2" fill="#d9606f"/>
<circle cx="1065.7" cy="231.5" r="2" fill="#d9606f"/>
<circle cx="1065.7" cy="277.0" r="2" fill="#d9606f"/>
<circle cx="1076.3" cy="98.0" r="2" fill="#d9606f"/>
<circle cx="1076.3" cy="120.0" r="2" fill="#d9606f"/>
<circle cx="1076.3" cy="141.1" r="2" fill="#d9606f"/>
<circle cx="1076.3" cy="155.2" r="2" fill="#d9606f"/>
<circle cx="1076.3" cy="162.6" r="2" fill="#d9606f"/>
<circle cx="1076.3" cy="170.9" r="2" fill="#d9606f"/>
<circle cx="1076.3" cy="175.8" r="2" fill="#d9606f"/>
<circle cx="1076.3" cy="181.2" r="2" fill="#d9606f"/>
<circle cx="1076.3" cy="184.6" r="2" fill="#d9606f"/>
<circle cx="1076.3" cy="192.9" r="2" fill="#d9606f"/>
<circle cx="1076.3" cy="196.8" r="2" fill="#d9606f"/>
<circle cx="1076.3" cy="205.1" r="2" fill="#d9606f"/>
<circle cx="1076.3" cy="244.2" r="2" fill="#d9606f"/>
<circle cx="1076.3" cy="265.3" r="2" fill="#d9606f"/>
<circle cx="1076.3" cy="300.0" r="2" fill="#d9606f"/>
<circle cx="1086.9" cy="138.6" r="2" fill="#d9606f"/>
<circle cx="1086.9" cy="141.1" r="2" fill="#d9606f"/>
<circle cx="1086.9" cy="143.5" r="2" fill="#d9606f"/>
<circle cx="1086.9" cy="146.4" r="2" fill="#d9606f"/>
<circle cx="1086.9" cy="150.8" r="2" fill="#d9606f"/>
<circle cx="1086.9" cy="166.5" r="2" fill="#d9606f"/>
<circle cx="1086.9" cy="168.9" r="2" fill="#d9606f"/>
<circle cx="1086.9" cy="172.4" r="2" fill="#d9606f"/>
<circle cx="1086.9" cy="174.8" r="2" fill="#d9606f"/>
<circle cx="1086.9" cy="178.2" r="2" fill="#d9606f"/>
<circle cx="1086.9" cy="181.6" r="2" fill="#d9606f"/>
<circle cx="1086.9" cy="193.9" r="2" fill="#d9606f"/>
<circle cx="1086.9" cy="206.1" r="2" fill="#d9606f"/>
<circle cx="1086.9" cy="212.5" r="2" fill="#d9606f"/>
<circle cx="1086.9" cy="214.4" r="2" fill="#d9606f"/>
<circle cx="1086.9" cy="217.3" r="2" fill="#d9606f"/>
<circle cx="1086.9" cy="230.1" r="2" fill="#d9606f"/>
<circle cx="1086.9" cy="319.1" r="2" fill="#d9606f"/>
<circle cx="1097.5" cy="93.1" r="2" fill="#d9606f"/>
<circle cx="1097.5" cy="121.5" r="2" fill="#d9606f"/>
<circle cx="1097.5" cy="137.6" r="2" fill="#d9606f"/>
<circle cx="1097.5" cy="146.4" r="2" fill="#d9606f"/>
<circle cx="1097.5" cy="152.3" r="2" fill="#d9606f"/>
<circle cx="1097.5" cy="154.8" r="2" fill="#d9606f"/>
<circle cx="1097.5" cy="187.0" r="2" fill="#d9606f"/>
<circle cx="1097.5" cy="204.6" r="2" fill="#d9606f"/>
<circle cx="1097.5" cy="208.5" r="2" fill="#d9606f"/>
<circle cx="1097.5" cy="225.2" r="2" fill="#d9606f"/>
<circle cx="1097.5" cy="234.9" r="2" fill="#d9606f"/>
<circle cx="1097.5" cy="295.6" r="2" fill="#d9606f"/>
<circle cx="1108.1" cy="104.4" r="2" fill="#d9606f"/>
<circle cx="1108.1" cy="123.9" r="2" fill="#d9606f"/>
<circle cx="1108.1" cy="193.9" r="2" fill="#d9606f"/>
<circle cx="1108.1" cy="202.2" r="2" fill="#d9606f"/>
<circle cx="1108.1" cy="207.6" r="2" fill="#d9606f"/>
<circle cx="1108.1" cy="210.0" r="2" fill="#d9606f"/>
<circle cx="1108.1" cy="235.4" r="2" fill="#d9606f"/>
<circle cx="1118.7" cy="42.3" r="2" fill="#d9606f"/>
<circle cx="1118.7" cy="101.9" r="2" fill="#d9606f"/>
<circle cx="1118.7" cy="150.8" r="2" fill="#d9606f"/>
<circle cx="1118.7" cy="160.6" r="2" fill="#d9606f"/>
<circle cx="1118.7" cy="165.5" r="2" fill="#d9606f"/>
<circle cx="1118.7" cy="185.1" r="2" fill="#d9606f"/>
<circle cx="1118.7" cy="187.0" r="2" fill="#d9606f"/>
<circle cx="1118.7" cy="220.8" r="2" fill="#d9606f"/>
<circle cx="1118.7" cy="233.5" r="2" fill="#d9606f"/>
<circle cx="1118.7" cy="246.7" r="2" fill="#d9606f"/>
<circle cx="1118.7" cy="279.9" r="2" fill="#d9606f"/>
<circle cx="1129.3" cy="89.2" r="2" fill="#d9606f"/>
<circle cx="1129.3" cy="104.9" r="2" fill="#d9606f"/>
<circle cx="1129.3" cy="124.9" r="2" fill="#d9606f"/>
<circle cx="1129.3" cy="139.1" r="2" fill="#d9606f"/>
<circle cx="1129.3" cy="145.9" r="2" fill="#d9606f"/>
<circle cx="1129.3" cy="150.4" r="2" fill="#d9606f"/>
<circle cx="1129.3" cy="153.3" r="2" fill="#d9606f"/>
<circle cx="1129.3" cy="156.7" r="2" fill="#d9606f"/>
<circle cx="1129.3" cy="159.6" r="2" fill="#d9606f"/>
<circle cx="1129.3" cy="192.9" r="2" fill="#d9606f"/>
<circle cx="1129.3" cy="196.8" r="2" fill="#d9606f"/>
<circle cx="1129.3" cy="202.2" r="2" fill="#d9606f"/>
<circle cx="1139.9" cy="116.1" r="2" fill="#d9606f"/>
<circle cx="1139.9" cy="133.2" r="2" fill="#d9606f"/>
<circle cx="1139.9" cy="145.9" r="2" fill="#d9606f"/>
<circle cx="1139.9" cy="174.8" r="2" fill="#d9606f"/>
<circle cx="1139.9" cy="175.8" r="2" fill="#d9606f"/>
<circle cx="1139.9" cy="182.1" r="2" fill="#d9606f"/>
<circle cx="1139.9" cy="184.6" r="2" fill="#d9606f"/>
<circle cx="1139.9" cy="203.7" r="2" fill="#d9606f"/>
<circle cx="1139.9" cy="206.6" r="2" fill="#d9606f"/>
<circle cx="1139.9" cy="286.8" r="2" fill="#d9606f"/>
<circle cx="1150.5" cy="97.0" r="2" fill="#d9606f"/>
<circle cx="1150.5" cy="127.9" r="2" fill="#d9606f"/>
<circle cx="1150.5" cy="136.2" r="2" fill="#d9606f"/>
<circle cx="1150.5" cy="151.3" r="2" fill="#d9606f"/>
<circle cx="1150.5" cy="160.6" r="2" fill="#d9606f"/>
<circle cx="1150.5" cy="164.0" r="2" fill="#d9606f"/>
<circle cx="1150.5" cy="168.9" r="2" fill="#d9606f"/>
<circle cx="1150.5" cy="173.8" r="2" fill="#d9606f"/>
<circle cx="1150.5" cy="176.3" r="2" fill="#d9606f"/>
<circle cx="1150.5" cy="179.2" r="2" fill="#d9606f"/>
<circle cx="1150.5" cy="181.2" r="2" fill="#d9606f"/>
<circle cx="1150.5" cy="187.0" r="2" fill="#d9606f"/>
<circle cx="1150.5" cy="207.6" r="2" fill="#d9606f"/>
<circle cx="1150.5" cy="210.0" r="2" fill="#d9606f"/>
<circle cx="1150.5" cy="231.5" r="2" fill="#d9606f"/>
<circle cx="1150.5" cy="260.4" r="2" fill="#d9606f"/>
<circle cx="1161.1" cy="38.9" r="2" fill="#d9606f"/>
<circle cx="1161.1" cy="61.8" r="2" fill="#d9606f"/>
<circle cx="1161.1" cy="104.9" r="2" fill="#d9606f"/>
<circle cx="1161.1" cy="148.4" r="2" fill="#d9606f"/>
<circle cx="1161.1" cy="168.4" r="2" fill="#d9606f"/>
<circle cx="1161.1" cy="174.8" r="2" fill="#d9606f"/>
<circle cx="1161.1" cy="177.7" r="2" fill="#d9606f"/>
<circle cx="1161.1" cy="180.7" r="2" fill="#d9606f"/>
<circle cx="1161.1" cy="182.1" r="2" fill="#d9606f"/>
<circle cx="1161.1" cy="187.0" r="2" fill="#d9606f"/>
<circle cx="1161.1" cy="197.3" r="2" fill="#d9606f"/>
<circle cx="1161.1" cy="217.3" r="2" fill="#d9606f"/>
<circle cx="1161.1" cy="283.8" r="2" fill="#d9606f"/>
<circle cx="1171.7" cy="70.6" r="2" fill="#d9606f"/>
<circle cx="1171.7" cy="139.1" r="2" fill="#d9606f"/>
<circle cx="1171.7" cy="158.7" r="2" fill="#d9606f"/>
<circle cx="1171.7" cy="202.7" r="2" fill="#d9606f"/>
<circle cx="1171.7" cy="278.5" r="2" fill="#d9606f"/>
<circle cx="1182.3" cy="84.3" r="2" fill="#d9606f"/>
<circle cx="1182.3" cy="149.4" r="2" fill="#d9606f"/>
<circle cx="1182.3" cy="168.9" r="2" fill="#d9606f"/>
<circle cx="1182.3" cy="171.4" r="2" fill="#d9606f"/>
<circle cx="1182.3" cy="212.5" r="2" fill="#d9606f"/>
<circle cx="1192.9" cy="65.8" r="2" fill="#d9606f"/>
<circle cx="1192.9" cy="117.6" r="2" fill="#d9606f"/>
<circle cx="1192.9" cy="139.1" r="2" fill="#d9606f"/>
<circle cx="1192.9" cy="157.7" r="2" fill="#d9606f"/>
<circle cx="1192.9" cy="182.1" r="2" fill="#d9606f"/>
<circle cx="1192.9" cy="198.3" r="2" fill="#d9606f"/>
<circle cx="1192.9" cy="201.2" r="2" fill="#d9606f"/>
<circle cx="1192.9" cy="219.8" r="2" fill="#d9606f"/>
<circle cx="1203.5" cy="80.9" r="2" fill="#d9606f"/>
<circle cx="1203.5" cy="109.3" r="2" fill="#d9606f"/>
<circle cx="1203.5" cy="141.5" r="2" fill="#d9606f"/>
<circle cx="1203.5" cy="147.9" r="2" fill="#d9606f"/>
<circle cx="1203.5" cy="179.7" r="2" fill="#d9606f"/>
<circle cx="1203.5" cy="240.8" r="2" fill="#d9606f"/>
<circle cx="1203.5" cy="262.3" r="2" fill="#d9606f"/>
<circle cx="1214.1" cy="116.6" r="2" fill="#d9606f"/>
<circle cx="1214.1" cy="124.4" r="2" fill="#d9606f"/>
<circle cx="1214.1" cy="130.8" r="2" fill="#d9606f"/>
<circle cx="1214.1" cy="165.5" r="2" fill="#d9606f"/>
<circle cx="1214.1" cy="185.1" r="2" fill="#d9606f"/>
<circle cx="1214.1" cy="194.4" r="2" fill="#d9606f"/>
<circle cx="1214.1" cy="217.3" r="2" fill="#d9606f"/>
<circle cx="1214.1" cy="261.8" r="2" fill="#d9606f"/>
<circle cx="1214.1" cy="265.8" r="2" fill="#d9606f"/>
<circle cx="1224.7" cy="119.1" r="2" fill="#d9606f"/>
<circle cx="1224.7" cy="124.4" r="2" fill="#d9606f"/>
<circle cx="1224.7" cy="132.7" r="2" fill="#d9606f"/>
<circle cx="1224.7" cy="138.1" r="2" fill="#d9606f"/>
<circle cx="1224.7" cy="169.9" r="2" fill="#d9606f"/>
<circle cx="1224.7" cy="170.4" r="2" fill="#d9606f"/>
<circle cx="1235.3" cy="106.8" r="2" fill="#d9606f"/>
<circle cx="1235.3" cy="109.3" r="2" fill="#d9606f"/>
<circle cx="1235.3" cy="115.6" r="2" fill="#d9606f"/>
<circle cx="1235.3" cy="124.4" r="2" fill="#d9606f"/>
<circle cx="1235.3" cy="139.1" r="2" fill="#d9606f"/>
<circle cx="1235.3" cy="152.3" r="2" fill="#d9606f"/>
<circle cx="1235.3" cy="155.2" r="2" fill="#d9606f"/>
<circle cx="1235.3" cy="162.1" r="2" fill="#d9606f"/>
<circle cx="1235.3" cy="164.0" r="2" fill="#d9606f"/>
<circle cx="1235.3" cy="167.0" r="2" fill="#d9606f"/>
<circle cx="1235.3" cy="186.5" r="2" fill="#d9606f"/>
<circle cx="1235.3" cy="189.0" r="2" fill="#d9606f"/>
<circle cx="1235.3" cy="206.6" r="2" fill="#d9606f"/>
<circle cx="1235.3" cy="210.5" r="2" fill="#d9606f"/>
<line x1="1055.1" y1="192.9" x2="1235.3" y2="153.8" stroke="#de5b6c" stroke-width="3"/>
<line x1="1044.5" y1="24.6" x2="1044.5" y2="333.3" stroke="#555" stroke-width="1.4"/>
<line x1="1043.8" y1="333.3" x2="1246.5" y2="333.3" stroke="#555" stroke-width="1.4"/>
<line x1="1041" y1="321.5" x2="1044.5" y2="321.5" stroke="#555" stroke-width="1.2"/>
<text x="1034" y="326.8" font-size="15" text-anchor="end" fill="#1a1a1a" font-weight="normal" >−3</text>
<line x1="1041" y1="272.6" x2="1044.5" y2="272.6" stroke="#555" stroke-width="1.2"/>
<text x="1034" y="277.90000000000003" font-size="15" text-anchor="end" fill="#1a1a1a" font-weight="normal" >−2</text>
<line x1="1041" y1="223.7" x2="1044.5" y2="223.7" stroke="#555" stroke-width="1.2"/>
<text x="1034" y="229.00000000000003" font-size="15" text-anchor="end" fill="#1a1a1a" font-weight="normal" >−1</text>
<line x1="1041" y1="174.8" x2="1044.5" y2="174.8" stroke="#555" stroke-width="1.2"/>
<text x="1034" y="180.10000000000002" font-size="15" text-anchor="end" fill="#1a1a1a" font-weight="normal" >0</text>
<line x1="1041" y1="125.9" x2="1044.5" y2="125.9" stroke="#555" stroke-width="1.2"/>
<text x="1034" y="131.20000000000002" font-size="15" text-anchor="end" fill="#1a1a1a" font-weight="normal" >1</text>
<line x1="1041" y1="77.0" x2="1044.5" y2="77.0" stroke="#555" stroke-width="1.2"/>
<text x="1034" y="82.30000000000001" font-size="15" text-anchor="end" fill="#1a1a1a" font-weight="normal" >2</text>
<line x1="1041" y1="28.1" x2="1044.5" y2="28.1" stroke="#555" stroke-width="1.2"/>
<text x="1034" y="33.40000000000002" font-size="15" text-anchor="end" fill="#1a1a1a" font-weight="normal" >3</text>
<line x1="1055.1" y1="333.3" x2="1055.1" y2="337" stroke="#555" stroke-width="1.2"/>
<text x="1055.1" y="355" font-size="15" text-anchor="middle" fill="#1a1a1a" font-weight="normal" >8</text>
<line x1="1097.5" y1="333.3" x2="1097.5" y2="337" stroke="#555" stroke-width="1.2"/>
<text x="1097.5" y="355" font-size="15" text-anchor="middle" fill="#1a1a1a" font-weight="normal" >12</text>
<line x1="1139.9" y1="333.3" x2="1139.9" y2="337" stroke="#555" stroke-width="1.2"/>
<text x="1139.8999999999999" y="355" font-size="15" text-anchor="middle" fill="#1a1a1a" font-weight="normal" >16</text>
<line x1="1182.3" y1="333.3" x2="1182.3" y2="337" stroke="#555" stroke-width="1.2"/>
<text x="1182.3" y="355" font-size="15" text-anchor="middle" fill="#1a1a1a" font-weight="normal" >20</text>
<line x1="1224.7" y1="333.3" x2="1224.7" y2="337" stroke="#555" stroke-width="1.2"/>
<text x="1224.7" y="355" font-size="15" text-anchor="middle" fill="#1a1a1a" font-weight="normal" >24</text>
<text x="1155.5" y="380" font-size="17.5" text-anchor="middle" fill="#1a1a1a" font-weight="normal" >Age</text>
<text transform="translate(1009,185.5) rotate(-90)" font-size="17.5" text-anchor="middle" fill="#1a1a1a">Distance code (mPFC)</text>
<text x="1143" y="38.5" font-size="29" text-anchor="middle" fill="#1a1a1a" font-weight="bold" >***</text>
<text x="2" y="416.5" font-size="19.5" text-anchor="start" fill="#0a0a0a" font-weight="bold" >E</text>
<text x="170" y="438.8" font-size="17.5" text-anchor="middle" fill="#1a1a1a" font-weight="normal" >Distance code</text>
<text x="170.3" y="454.2" font-size="15" text-anchor="middle" fill="#1a1a1a" font-weight="normal" >(aligned trials - misaligned trials)</text>
<text x="47.8" y="512.2" font-size="15" text-anchor="start" fill="#1a1a1a" font-weight="normal" >Mean</text>
<text x="47.3" y="706" font-size="15" text-anchor="start" fill="#1a1a1a" font-weight="normal" >Age</text>
<g transform="translate(88.67,495.63) scale(0.18506,0.18859)"><use href="#brain"/><g clip-path="url(#bclip)"><polygon points="765.3,390.6 823.1,342.4 864.2,337.1 881.0,374.7 942.0,379.5 942.0,455.3 889.1,463.3 839.4,427.8 790.2,415.0" fill="#ff2a05"/></g></g>
<text x="215.4" y="641" font-size="14" text-anchor="start" fill="#1a1a1a" font-weight="normal" >x=-6</text>
<g transform="translate(87.86,690.56) scale(0.18090,0.18255)"><use href="#brain"/><g clip-path="url(#bclip)"><polygon points="765.3,387.0 806.2,378.7 830.5,419.3 879.7,424.2 895.8,459.8 887.5,524.5 854.8,540.9 822.2,508.6 797.9,459.8" fill="url(#bg1)"/><polygon points="540.9,241.3 585.1,233.0 610.0,265.4 606.6,278.5 544.2,278.5" fill="#ff2a05"/></g></g>
<text x="217.4" y="832" font-size="14" text-anchor="start" fill="#1a1a1a" font-weight="normal" >x=8</text>
<linearGradient id="cb3" x1="0" y1="1" x2="0" y2="0"><stop offset="0" stop-color="#ff0800"/><stop offset="0.5" stop-color="#ff8c00"/><stop offset="1" stop-color="#ffff20"/></linearGradient>
<rect x="298.7" y="606" width="9.5" height="106.4" fill="url(#cb3)" stroke="#e0b040" stroke-width="0.4"/>
<text transform="translate(295.2,606) rotate(-90)" font-size="13.5" text-anchor="end" fill="#1a1a1a">5</text>
<text transform="translate(295.2,653.88) rotate(-90)" font-size="13.5" text-anchor="middle" fill="#1a1a1a">Z</text>
<text transform="translate(295.2,712.4) rotate(-90)" font-size="13.5" text-anchor="start" fill="#1a1a1a">3.1</text>
<text x="361.8" y="416.5" font-size="19.5" text-anchor="start" fill="#0a0a0a" font-weight="bold" >F</text>
<text x="549.3" y="444.4" font-size="17.6" text-anchor="middle" fill="#1a1a1a" font-weight="normal" >Grid-like code modulation (EC)</text>
<rect x="453.5" y="577.6" width="61.9" height="215.9" fill="#f5d6c0"/>
<rect x="580.4" y="659.3" width="62.1" height="134.2" fill="#f3f1e1"/>
<line x1="484.7" y1="518.3" x2="484.7" y2="636.1" stroke="#333" stroke-width="2.6"/>
<line x1="611.5" y1="622.2" x2="611.5" y2="695.3" stroke="#333" stroke-width="2.6"/>
<line x1="443.1" y1="469.7" x2="443.1" y2="793.5" stroke="#555" stroke-width="1.4"/>
<line x1="442.4" y1="793.5" x2="652.9" y2="793.5" stroke="#555" stroke-width="1.4"/>
<line x1="439.6" y1="793.5" x2="443.1" y2="793.5" stroke="#555" stroke-width="1.2"/>
<text x="432" y="798.8" font-size="15" text-anchor="end" fill="#1a1a1a" font-weight="normal" >0.0</text>
<line x1="439.6" y1="716.4" x2="443.1" y2="716.4" stroke="#555" stroke-width="1.2"/>
<text x="432" y="721.6999999999999" font-size="15" text-anchor="end" fill="#1a1a1a" font-weight="normal" >0.1</text>
<line x1="439.6" y1="639.3" x2="443.1" y2="639.3" stroke="#555" stroke-width="1.2"/>
<text x="432" y="644.5999999999999" font-size="15" text-anchor="end" fill="#1a1a1a" font-weight="normal" >0.2</text>
<line x1="439.6" y1="562.2" x2="443.1" y2="562.2" stroke="#555" stroke-width="1.2"/>
<text x="432" y="567.5" font-size="15" text-anchor="end" fill="#1a1a1a" font-weight="normal" >0.3</text>
<line x1="439.6" y1="485.1" x2="443.1" y2="485.1" stroke="#555" stroke-width="1.2"/>
<text x="432" y="490.40000000000003" font-size="15" text-anchor="end" fill="#1a1a1a" font-weight="normal" >0.4</text>
<line x1="484.6" y1="793.5" x2="484.6" y2="797.0" stroke="#555" stroke-width="1.2"/>
<line x1="611.5" y1="793.5" x2="611.5" y2="797.0" stroke="#555" stroke-width="1.2"/>
<text x="484.6" y="813.7" font-size="15" text-anchor="middle" fill="#1a1a1a" font-weight="normal" >Aligned</text>
<text x="611.5" y="813.7" font-size="15" text-anchor="middle" fill="#1a1a1a" font-weight="normal" >Misaligned</text>
<text x="550" y="841.2" font-size="17.5" text-anchor="middle" fill="#1a1a1a" font-weight="normal" >Direction relatived to φ</text>
<text transform="translate(402,648) rotate(-90)" font-size="17.5" text-anchor="middle" fill="#1a1a1a">Distance code (mPFC)</text>
<line x1="484" y1="498.1" x2="611.7" y2="498.1" stroke="#222" stroke-width="1.8"/>
<text x="547.2" y="499" font-size="24" text-anchor="middle" fill="#1a1a1a" font-weight="bold" >*</text>
<text x="675.5" y="416.5" font-size="19.5" text-anchor="start" fill="#0a0a0a" font-weight="bold" >G</text>
<text x="852.5" y="434" font-size="17.5" text-anchor="middle" fill="#1a1a1a" font-weight="normal" >Mediation analysis</text>
<text x="1151" y="434.1" font-size="17.5" text-anchor="middle" fill="#1a1a1a" font-weight="normal" >Parallel mediation analysis</text>
<text x="710.5" y="499.5" font-size="14.6" text-anchor="start" fill="#e04a5c" font-weight="normal" >Grid-like code (EC)</text>
<text x="710.5" y="571.8" font-size="14.6" text-anchor="start" fill="#f08866" font-weight="normal" >Distance code (mPFC)</text>
<polygon points="873,507.4 873,497.8 881.9,487.9 889.9,471.9 901.9,459.5 906,458.5 911.8,456.5 921.8,465.9 933.8,479.9 949.8,491.8 961.7,500.8 969.1,502.8 969.1,507.4" fill="#e04a5c"/>
<polygon points="867.6,580 867.6,567.7 874,553.7 882,535.7 889.9,522.8 894.9,520.2 899.9,521.8 909.9,533.7 923.8,552.7 927.8,555.7 937.8,567.7 948.8,574 948.8,580" fill="#f08866"/>
<polygon points="1091.2,507.2 1091.2,497.6 1099.7,486.5 1112.7,467.7 1120.4,461.5 1127.6,460 1138.5,469.7 1151.4,481.4 1169.5,495 1177.2,500.7 1185,502 1185,507.2" fill="#e04a5c"/>
<polygon points="1079,580 1079,570.5 1085.5,560.2 1092,539.5 1101,524 1107.5,520.1 1115.2,526.6 1126.9,549.8 1133.3,553.7 1141,564 1151.4,571.8 1155.8,574.4 1155.8,580" fill="#f08866"/>
<line x1="709.7" y1="507.4" x2="1010" y2="507.4" stroke="#e04a5c" stroke-width="1.8"/>
<line x1="709.7" y1="580.6" x2="1010" y2="580.6" stroke="#f08866" stroke-width="1.8"/>
<line x1="1054.5" y1="507.2" x2="1245.7" y2="507.2" stroke="#e04a5c" stroke-width="1.8"/>
<line x1="1054.5" y1="580" x2="1245.7" y2="580" stroke="#f08866" stroke-width="1.8"/>
<line x1="867.4" y1="447" x2="867.4" y2="507" stroke="#555" stroke-width="1" stroke-dasharray="3,2"/>
<line x1="867.4" y1="519.5" x2="867.4" y2="580" stroke="#555" stroke-width="1" stroke-dasharray="3,2"/>
<line x1="1085.5" y1="447" x2="1085.5" y2="507" stroke="#555" stroke-width="1" stroke-dasharray="3,2"/>
<line x1="1085.5" y1="519.5" x2="1085.5" y2="580" stroke="#555" stroke-width="1" stroke-dasharray="3,2"/>
<polygon points="909.50,446.00 910.82,449.18 914.26,449.45 911.64,451.70 912.44,455.05 909.50,453.25 906.56,455.05 907.36,451.70 904.74,449.45 908.18,449.18" fill="#e04a5c"/>
<polygon points="894.30,509.60 895.68,512.91 899.25,513.19 896.53,515.52 897.36,519.01 894.30,517.14 891.24,519.01 892.07,515.52 889.35,513.19 892.92,512.91" fill="#f08866"/>
<polygon points="1126.90,449.00 1128.22,452.18 1131.66,452.45 1129.04,454.70 1129.84,458.05 1126.90,456.25 1123.96,458.05 1124.76,454.70 1122.14,452.45 1125.58,452.18" fill="#e04a5c"/>
<text x="1124.3" y="518.8" font-size="12" text-anchor="middle" fill="#1a1a1a" font-weight="normal" >n.s.</text>
<text x="872.8" y="594" font-size="12.5" text-anchor="middle" fill="#333" font-weight="normal" >0.00</text>
<text x="938.3" y="594" font-size="12.5" text-anchor="middle" fill="#333" font-weight="normal" >0.05</text>
<text x="1003.8" y="594" font-size="12.5" text-anchor="middle" fill="#333" font-weight="normal" >0.10</text>
<text x="1093.8" y="594" font-size="12.5" text-anchor="middle" fill="#333" font-weight="normal" >0.00</text>
<text x="1159.3" y="594" font-size="12.5" text-anchor="middle" fill="#333" font-weight="normal" >0.05</text>
<text x="1224.8" y="594" font-size="12.5" text-anchor="middle" fill="#333" font-weight="normal" >0.10</text>
<text x="675.8" y="639" font-size="19.5" text-anchor="start" fill="#0a0a0a" font-weight="bold" >H</text>
<rect x="807.4" y="782.8" width="109.1" height="55.4" rx="5" fill="#e6e4ef" stroke="#6a6a6a" stroke-width="1.4"/>
<rect x="942.2" y="637.5" width="109" height="55.4" rx="5" fill="#e6e4ef" stroke="#6a6a6a" stroke-width="1.4"/>
<rect x="1074.8" y="783.2" width="109.9" height="55.4" rx="5" fill="#e6e4ef" stroke="#6a6a6a" stroke-width="1.4"/>
<text x="862" y="806.7" font-size="14.9" text-anchor="middle" fill="#1a1a1a" font-weight="normal" >Distance code</text>
<text x="862" y="825.5" font-size="14.9" text-anchor="middle" fill="#1a1a1a" font-weight="normal" >(mPFC)</text>
<text x="996.7" y="664" font-size="14.9" text-anchor="middle" fill="#1a1a1a" font-weight="normal" >Grid-like code</text>
<text x="996.7" y="682.5" font-size="14.9" text-anchor="middle" fill="#1a1a1a" font-weight="normal" >(EC)</text>
<text x="1129.6" y="814.5" font-size="14.9" text-anchor="middle" fill="#1a1a1a" font-weight="normal" >Inference</text>
<line x1="861.4" y1="782.8" x2="941" y2="668" stroke="#555" stroke-width="1.3"/>
<path d="M934.5,670.5 L942,666.5 L940.5,675" fill="none" stroke="#555" stroke-width="1.3"/>
<line x1="1051.2" y1="665.4" x2="1131" y2="782" stroke="#555" stroke-width="1.3"/>
<path d="M1124.5,776 L1131.6,783.2 L1130.5,774.5" fill="none" stroke="#555" stroke-width="1.3"/>
<line x1="916.5" y1="812.2" x2="1073.5" y2="812.2" stroke="#555" stroke-width="1.3"/>
<path d="M1066,808.5 L1074,812.2 L1066,816" fill="none" stroke="#555" stroke-width="1.3"/>
<text x="927.1" y="635" font-size="13.7" text-anchor="start" fill="#1a1a1a" font-weight="normal" >ab: 0.04 (0.004,0.098)</text>
<text x="1067.7" y="631" font-size="22" text-anchor="middle" fill="#1a1a1a" font-weight="normal" >*</text>
<text x="930.8" y="806.5" font-size="13.85" text-anchor="start" fill="#1a1a1a" font-weight="normal" >c': 0.20 (0.07,0.33)**</text>
<text x="930.8" y="828.1" font-size="13.85" text-anchor="start" fill="#1a1a1a" font-weight="normal" >c: 0.24 (0.10,0.37)***</text>
<text transform="translate(863.7,767.7) rotate(-55.3)" font-size="13.7" fill="#1a1a1a">a: 0.15 (0.01,0.28)</text>
<text transform="translate(914.5,673) rotate(-55.3)" font-size="13" fill="#1a1a1a">*</text>
<text transform="translate(1067,680) rotate(55.6)" font-size="13.7" fill="#1a1a1a">b: 0.31 (0.18,0.45)</text>
<text x="1066" y="674" font-size="13" text-anchor="start" fill="#1a1a1a" font-weight="normal" >***</text>
<g transform="translate(713.37,771.07) scale(0.09180,0.09141)"><use href="#brain"/><path d="M45.0,414.0 C46.8,390.8 49.3,348.3 61.0,318.0 C72.7,287.7 95.3,255.3 115.0,232.0 C134.7,208.7 155.8,197.7 179.0,178.0 C202.2,158.3 227.2,132.7 254.0,114.0 C280.8,95.3 311.3,75.8 340.0,66.0 C368.7,56.2 395.7,54.2 426.0,55.0 C456.3,55.8 488.2,63.0 522.0,71.0 C555.8,79.0 593.2,88.7 629.0,103.0 C664.8,117.3 704.8,137.3 737.0,157.0 C769.2,176.7 797.0,197.8 822.0,221.0 C847.0,244.2 869.2,269.2 887.0,296.0 C904.8,322.8 921.0,355.2 929.0,382.0 C937.0,408.8 936.7,430.2 935.0,457.0 C933.3,483.8 928.8,519.8 919.0,543.0 C909.2,566.2 895.7,585.3 876.0,596.0 C856.3,606.7 827.8,607.0 801.0,607.0 C774.2,607.0 743.7,603.2 715.0,596.0 C686.3,588.8 652.2,574.7 629.0,564.0 C605.8,553.3 590.2,532.0 576.0,532.0 C561.8,532.0 553.0,548.0 544.0,564.0 C535.0,580.0 529.2,603.0 522.0,628.0 C514.8,653.0 515.3,689.0 501.0,714.0 C486.7,739.0 457.5,762.8 436.0,778.0 C414.5,793.2 388.0,803.2 372.0,805.0 C356.0,806.8 349.0,797.0 340.0,789.0 C331.0,781.0 330.5,762.3 318.0,757.0 C305.5,751.7 284.7,764.2 265.0,757.0 C245.3,749.8 221.5,731.8 200.0,714.0 C178.5,696.2 148.5,671.3 136.0,650.0 C123.5,628.7 123.2,605.7 125.0,586.0 C126.8,566.3 154.2,546.3 147.0,532.0 C139.8,517.7 98.2,512.5 82.0,500.0 C65.8,487.5 56.2,471.3 50.0,457.0 C43.8,442.7 43.2,437.2 45.0,414.0 Z" fill="#fff" opacity="0.3"/><g clip-path="url(#bclip)"><polygon points="843.0,317.0 914.6,378.6 945.2,481.3 914.6,584.0 832.7,604.6 740.7,604.6 679.3,573.8 628.2,501.9 679.3,450.5 730.4,419.7 761.1,378.6" fill="#ebc6d8"/></g></g>
<path d="M999.2,697.5 C997.6,697.2 994.8,695.2 992.6,694.7 C990.4,694.2 988.4,694.1 986.0,694.7 C983.7,695.3 980.8,696.9 978.5,698.5 C976.1,700.0 973.8,701.9 971.9,704.1 C970.0,706.3 968.5,709.0 967.2,711.6 C966.0,714.3 965.0,717.1 964.4,720.1 C963.8,723.1 963.5,726.3 963.5,729.5 C963.4,732.6 963.9,736.1 963.9,738.9 C963.9,741.7 963.1,743.9 963.5,746.4 C963.9,748.9 964.9,751.7 966.3,753.9 C967.7,756.1 969.9,758.1 971.9,759.5 C974.0,761.0 976.6,761.9 978.5,762.4 C980.4,762.8 981.5,763.8 983.2,762.4 C984.9,761.0 987.0,757.0 988.8,753.9 C990.7,750.8 992.8,745.2 994.5,743.6 C996.2,741.9 997.4,744.0 999.2,744.0 C1000.9,744.0 1002.8,741.8 1004.8,743.6 C1006.8,745.4 1009.5,751.7 1011.4,754.8 C1013.3,758.0 1014.2,761.3 1016.1,762.4 C1018.0,763.5 1020.3,762.5 1022.7,761.4 C1025.0,760.3 1028.2,758.0 1030.2,755.8 C1032.2,753.6 1033.9,751.1 1034.9,748.3 C1035.8,745.5 1035.8,742.0 1035.8,738.9 C1035.8,735.7 1035.4,732.9 1034.9,729.5 C1034.4,726.0 1033.9,721.6 1033.0,718.2 C1032.1,714.7 1031.0,711.6 1029.2,708.8 C1027.5,706.0 1025.0,703.4 1022.7,701.3 C1020.3,699.2 1017.7,697.2 1015.2,696.1 C1012.6,695.0 1009.8,694.6 1007.6,694.7 C1005.4,694.8 1003.4,696.1 1002.0,696.6 C1000.6,697.0 1000.7,697.8 999.2,697.5 Z" fill="#e2e2e2" stroke="#555" stroke-width="0.9"/>
<clipPath id="corclip"><path d="M999.2,697.5 C997.6,697.2 994.8,695.2 992.6,694.7 C990.4,694.2 988.4,694.1 986.0,694.7 C983.7,695.3 980.8,696.9 978.5,698.5 C976.1,700.0 973.8,701.9 971.9,704.1 C970.0,706.3 968.5,709.0 967.2,711.6 C966.0,714.3 965.0,717.1 964.4,720.1 C963.8,723.1 963.5,726.3 963.5,729.5 C963.4,732.6 963.9,736.1 963.9,738.9 C963.9,741.7 963.1,743.9 963.5,746.4 C963.9,748.9 964.9,751.7 966.3,753.9 C967.7,756.1 969.9,758.1 971.9,759.5 C974.0,761.0 976.6,761.9 978.5,762.4 C980.4,762.8 981.5,763.8 983.2,762.4 C984.9,761.0 987.0,757.0 988.8,753.9 C990.7,750.8 992.8,745.2 994.5,743.6 C996.2,741.9 997.4,744.0 999.2,744.0 C1000.9,744.0 1002.8,741.8 1004.8,743.6 C1006.8,745.4 1009.5,751.7 1011.4,754.8 C1013.3,758.0 1014.2,761.3 1016.1,762.4 C1018.0,763.5 1020.3,762.5 1022.7,761.4 C1025.0,760.3 1028.2,758.0 1030.2,755.8 C1032.2,753.6 1033.9,751.1 1034.9,748.3 C1035.8,745.5 1035.8,742.0 1035.8,738.9 C1035.8,735.7 1035.4,732.9 1034.9,729.5 C1034.4,726.0 1033.9,721.6 1033.0,718.2 C1032.1,714.7 1031.0,711.6 1029.2,708.8 C1027.5,706.0 1025.0,703.4 1022.7,701.3 C1020.3,699.2 1017.7,697.2 1015.2,696.1 C1012.6,695.0 1009.8,694.6 1007.6,694.7 C1005.4,694.8 1003.4,696.1 1002.0,696.6 C1000.6,697.0 1000.7,697.8 999.2,697.5 Z"/></clipPath>
<g clip-path="url(#corclip)"><polygon points="973.8,721.0 983.2,713.5 999.2,718.2 1016.1,713.5 1026.4,721.0 1026.4,735.1 1016.1,740.8 999.2,738.9 982.3,740.8 972.9,735.1" fill="#f2f2f2"/><polyline points="999.2,697.5 999.2,718.2" fill="none" stroke="#8a8a8a" stroke-width="1.6"/><polyline points="978.5,699.4 983.2,713.5" fill="none" stroke="#8a8a8a" stroke-width="1.6"/><polyline points="1015.2,696.6 1011.4,713.5" fill="none" stroke="#8a8a8a" stroke-width="1.6"/><polyline points="967.2,718.2 979.4,725.7" fill="none" stroke="#8a8a8a" stroke-width="1.6"/><polyline points="1033.0,718.2 1019.8,725.7" fill="none" stroke="#8a8a8a" stroke-width="1.6"/><polyline points="964.4,734.2 976.6,732.3 981.3,742.6" fill="none" stroke="#8a8a8a" stroke-width="1.6"/><polyline points="1035.8,734.2 1022.7,732.3 1017.0,742.6" fill="none" stroke="#8a8a8a" stroke-width="1.6"/><polyline points="968.2,748.3 977.6,750.2" fill="none" stroke="#8a8a8a" stroke-width="1.6"/><polyline points="1032.1,748.3 1022.7,750.2" fill="none" stroke="#8a8a8a" stroke-width="1.6"/><polyline points="990.7,702.2 994.5,714.4" fill="none" stroke="#8a8a8a" stroke-width="1.6"/><polyline points="1007.6,702.2 1003.9,714.4" fill="none" stroke="#8a8a8a" stroke-width="1.6"/><polyline points="971.9,706.9 978.5,710.7 976.6,718.2" fill="none" stroke="#8a8a8a" stroke-width="1.6"/><polyline points="1026.4,706.9 1019.8,710.7 1021.7,718.2" fill="none" stroke="#8a8a8a" stroke-width="1.6"/><polyline points="986.0,695.6 987.9,705.0 986.0,710.7" fill="none" stroke="#8a8a8a" stroke-width="1.6"/><polyline points="1011.4,695.6 1009.5,705.0 1012.3,710.7" fill="none" stroke="#8a8a8a" stroke-width="1.6"/><polyline points="969.1,738.9 973.8,742.6 971.9,750.2" fill="none" stroke="#8a8a8a" stroke-width="1.6"/><polyline points="1030.2,738.9 1025.5,742.6 1027.4,750.2" fill="none" stroke="#8a8a8a" stroke-width="1.6"/><polygon points="990.7,721.0 998.2,722.9 999.2,726.7 1000.1,722.9 1007.6,721.0 1005.8,724.8 1000.1,727.6 994.5,725.7" fill="#222"/><polygon points="987.9,742.6 994.5,743.6 986.0,761.4 981.8,760.0" fill="#f08a72"/><polygon points="1004.8,743.6 1011.4,742.6 1020.8,754.8 1019.8,760.0 1014.2,761.9" fill="#f08a72"/><polygon points="1011.4,742.6 1017.0,744.5 1018.0,750.2 1014.2,748.3" fill="#9a9a9a"/></g>
<path d="M1198.2,839.1 C1203,832 1206,829 1207.5,827.7 L1207.9,823.7 C1200,817 1195,810 1193,800 C1191,788 1198,780 1208,778.3 C1223,775 1235,782 1237,793 L1237.8,798.2 L1242.2,808 L1240.5,810.1 L1237.4,811.4 L1236.1,821.1 L1233.9,822.8 L1225.5,822.8 L1223.7,824.6 L1223.7,827.7 C1228,830 1232,834 1235.6,839.1" fill="none" stroke="#111" stroke-width="3" stroke-linejoin="round" stroke-linecap="round"/>
<path d="M1218,801.3 C1217,797 1210.5,796.5 1209.5,802 C1208.8,806 1209,810 1212.5,810.5 C1215,810.8 1215.8,808 1215,806.5" fill="none" stroke="#111" stroke-width="2.8" stroke-linecap="round"/>
</svg></body></html>
